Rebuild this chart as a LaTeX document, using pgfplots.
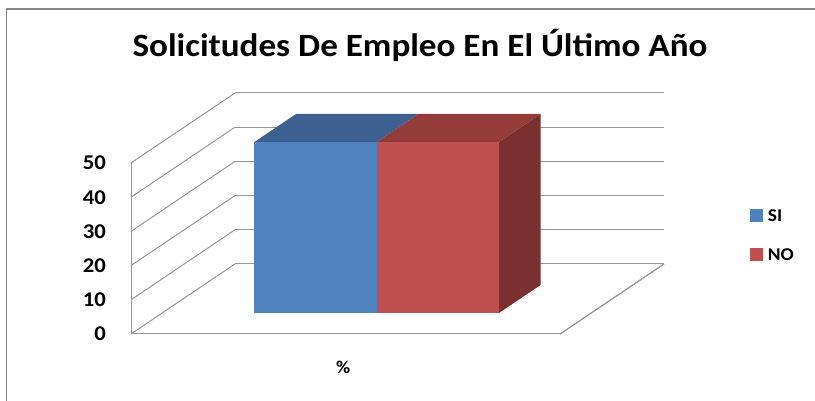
\documentclass[border=0pt]{standalone}
\usepackage{fontspec}
\setmainfont{Carlito}[FakeStretch=1.08]
\usepackage{pgfplots}
\pgfplotsset{compat=1.18}
\definecolor{gridgray}{RGB}{150,150,150}
\definecolor{framegray}{RGB}{134,134,134}
\definecolor{bluefront}{RGB}{79,129,189}
\definecolor{bluetop}{RGB}{60,97,145}
\definecolor{redfront}{RGB}{192,80,77}
\definecolor{redtop}{RGB}{148,60,58}
\definecolor{redside}{RGB}{122,48,46}
\begin{document}
\begin{tikzpicture}
\useasboundingbox (0pt,0pt) rectangle (815pt,401pt);
\draw[framegray, line width=1.6pt] (6.5pt,0pt) -- (6.5pt,392pt) -- (815pt,392pt);
\node[font=\bfseries\fontsize{32.5}{32.5}\selectfont, anchor=base] at (420pt,344pt) {Solicitudes De Empleo En El Último Año};
\begin{axis}[
  at={(131pt,67pt)}, anchor=origin,
  x={(429pt,0pt)}, y={(104pt,70pt)}, z={(0pt,3.42pt)},
  xmin=0, xmax=1, ymin=0, ymax=1, zmin=0, zmax=50,
  axis lines=left,
  axis line style={-, draw=gridgray, line width=1pt},
  zmajorgrids,
  major grid style={gridgray, line width=1pt},
  major tick length=0pt,
  xtick={0.5}, xticklabels={\%},
  ytick=\empty,
  ztick={0,10,20,30,40,50},
  /pgf/number format/assume math mode=true,
  tick label style={font=\bfseries\fontsize{21}{21}\selectfont},
  xticklabel style={yshift=-24pt, xshift=3pt, font=\bfseries\fontsize{18}{18}\selectfont},
  zticklabel style={anchor=east, inner xsep=25pt},
  clip=false,
  legend style={at={(1.155,0.535)}, anchor=north west, draw=none, fill=none,
    font=\bfseries\fontsize{18}{18}\selectfont, row sep=22pt},
  legend image code/.code={\fill[#1, draw=none] (0pt,-6pt) rectangle (13pt,7pt); \path[draw=none, fill=none] (0pt,0pt) rectangle (16pt,1pt);},
  legend cell align=left,
]
\addplot3[forget plot, draw=none, fill=redside] coordinates {(0.785,0.3,0) (0.785,0.7,0) (0.785,0.7,50) (0.785,0.3,50)};
\addplot3[forget plot, draw=none, fill=bluetop] coordinates {(0.215,0.3,50) (0.5,0.3,50) (0.5,0.7,50) (0.215,0.7,50)};
\addplot3[forget plot, draw=none, fill=redtop] coordinates {(0.5,0.3,50) (0.785,0.3,50) (0.785,0.7,50) (0.5,0.7,50)};
\addplot3[forget plot, draw=none, fill=bluefront] coordinates {(0.215,0.3,0) (0.5,0.3,0) (0.5,0.3,50) (0.215,0.3,50)};
\addplot3[forget plot, draw=none, fill=redfront] coordinates {(0.5,0.3,0) (0.785,0.3,0) (0.785,0.3,50) (0.5,0.3,50)};
\addplot3[forget plot, draw=gridgray, line width=1pt] coordinates {(1,0,0) (1,1,0)};
\addlegendimage{fill=bluefront}
\addlegendentry{SI}
\addlegendimage{fill=redfront}
\addlegendentry{NO}
\end{axis}
\end{tikzpicture}
\end{document}
